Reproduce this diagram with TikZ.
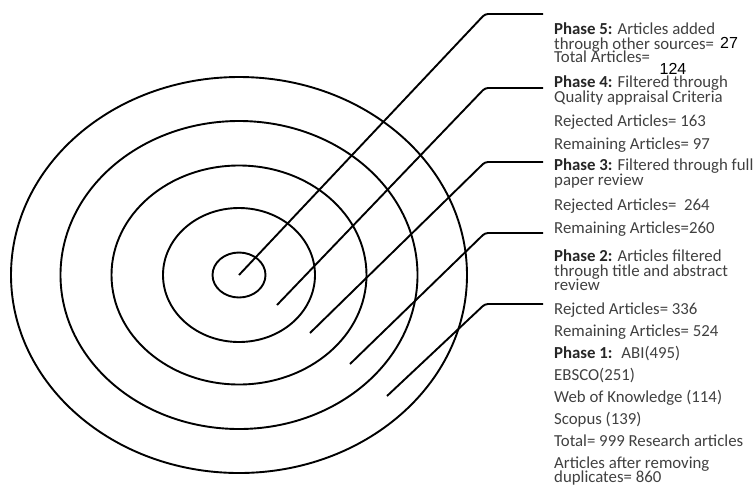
\documentclass[tikz,border=0pt]{standalone}
\usepackage{fontspec}
\setmainfont{Carlito}
\newfontfamily\numfont{Liberation Sans}
\definecolor{txtgrey}{HTML}{404040}
\definecolor{headgrey}{HTML}{262626}
\newcommand{\phase}[1]{\textbf{\color{headgrey}Phase #1:}}

\begin{document}
\begin{tikzpicture}[x=1pt,y=-1pt,
  ring/.style={line width=1.9pt},
  leader/.style={line width=1.9pt, rounded corners=3pt},
  txt/.style={anchor=base west, inner sep=0pt, text=txtgrey,
    font=\fontsize{16.8}{15}\selectfont},
  num/.style={inner sep=0pt, font=\numfont\fontsize{16}{16}\selectfont}]

  \useasboundingbox (0,0) rectangle (754,488);

  % Centre of the target
  \coordinate (C) at (239,275);

  % Rings, inner to outer
  \draw[ring] (C) ellipse [x radius=26.5, y radius=22.5];
  \draw[ring] (C) ellipse [x radius=76, y radius=67];
  \draw[ring] (C) ellipse [x radius=127.5, y radius=109.5];
  \draw[ring] (C) ellipse [x radius=178.5, y radius=154];
  \draw[ring] (C) ellipse [x radius=228, y radius=198];

  % Leader start points
  \coordinate (s4) at (277,305);
  \coordinate (s3) at (310,333);
  \coordinate (s2) at (350,364);
  \coordinate (s1) at (387,396);

  % Bends and free ends
  \coordinate (k5) at (485,14);  \coordinate (e5) at (543,14);
  \coordinate (k4) at (485,88);  \coordinate (e4) at (543,88);
  \coordinate (k3) at (485,162); \coordinate (e3) at (543,162);
  \coordinate (k2) at (485,233); \coordinate (e2) at (543,233);
  \coordinate (k1) at (485,304); \coordinate (e1) at (543,304);

  % Leaders
  \draw[leader] (C) -- (k5) -- (e5);
  \draw[leader] (s4) -- (k4) -- (e4);
  \draw[leader] (s3) -- (k3) -- (e3);
  \draw[leader] (s2) -- (k2) -- (e2);
  \draw[leader] (s1) -- (k1) -- (e1);

  % Phase 5
  \node[txt] (p5a) at (554,34) {\phase{5} Articles added};
  \node[txt] (p5b) at (554,49) {through other sources=};
  \node[txt] (p5c) at (554,62) {Total Articles=};
  \node[num] (n27) at (729,43) {27};
  \node[num] (n124) at (673,69) {124};

  % Phase 4
  \node[txt] (p4a) at (554,87) {\phase{4} Filtered through};
  \node[txt] (p4b) at (554,102) {Quality appraisal Criteria};
  \node[txt] (p4c) at (554,126) {Rejected Articles= 163};
  \node[txt] (p4d) at (554,149) {Remaining Articles= 97};

  % Phase 3
  \node[txt] (p3a) at (554,170) {\phase{3} Filtered through full};
  \node[txt] (p3b) at (554,185) {paper review};
  \node[txt] (p3c) at (554,210) {Rejected Articles=~ 264};
  \node[txt] (p3d) at (554,233) {Remaining Articles=260};

  % Phase 2
  \node[txt] (p2a) at (554,261) {\phase{2} Articles filtered};
  \node[txt] (p2b) at (554,276) {through title and abstract};
  \node[txt] (p2c) at (554,290) {review};
  \node[txt] (p2d) at (554,314) {Rejcted Articles= 336};
  \node[txt] (p2e) at (554,336) {Remaining Articles= 524};

  % Phase 1
  \node[txt] (p1a) at (554,358) {\phase{1}~ ABI(495)};
  \node[txt] (p1b) at (554,380) {EBSCO(251)};
  \node[txt] (p1c) at (554,402) {Web of Knowledge (114)};
  \node[txt] (p1d) at (554,424) {Scopus (139)};
  \node[txt] (p1e) at (554,446) {Total= 999 Research articles};
  \node[txt] (p1f) at (554,468) {Articles after removing};
  \node[txt] (p1g) at (554,482) {duplicates= 860};

\end{tikzpicture}
\end{document}
